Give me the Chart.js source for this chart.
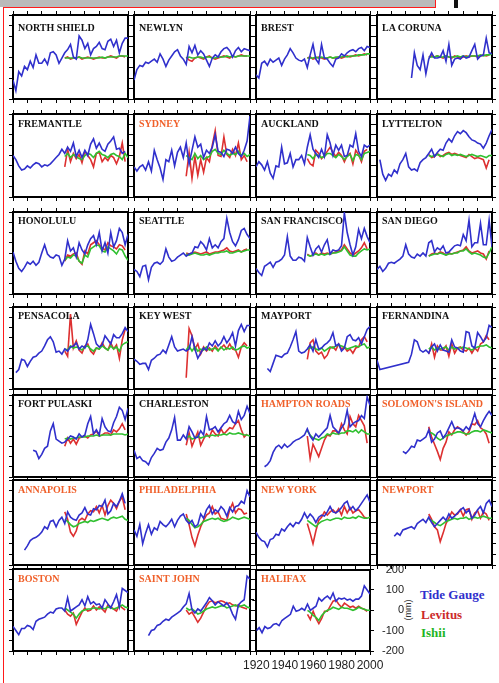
<!DOCTYPE html>
<html lang="en">
<head>
<meta charset="UTF-8">
<title>Tide gauge vs Levitus and Ishii steric sea level</title>
<script src="https://cdn.jsdelivr.net/npm/chart.js"></script>
<style>
  body { margin: 0; width: 499px; height: 683px; background: #fff; position: relative; overflow: hidden; font-family: "Liberation Sans", Arial, sans-serif; }
  .band { position: absolute; left: 0; top: 0; width: 436px; height: 7px; background: #bababa; }
  .redtop { position: absolute; left: 3px; top: 7px; width: 432px; height: 1px; background: #ff1a1a; }
  .redleft { position: absolute; left: 3px; top: 7px; width: 1px; height: 690px; background: #ff1a1a; }
  .rednotch { position: absolute; left: 435px; top: 0; width: 1px; height: 8px; background: #ff1a1a; }
  .mark { position: absolute; left: 454px; top: 0; width: 4px; height: 8px; background: #111; }
  .panel { position: absolute; }
  .station { position: absolute; font: bold 10px "Liberation Serif", "Times New Roman", serif; line-height: 10px; white-space: nowrap; }
  .legend { position: absolute; font: bold 13px "Liberation Serif", "Times New Roman", serif; line-height: 14px; white-space: nowrap; }
  .unit { position: absolute; left: 396px; top: 605px; width: 24px; font-size: 9px; line-height: 10px; text-align: center; color: #333; transform: rotate(-90deg); }
</style>
</head>
<body>
<div class="band"></div>
<div class="redtop"></div>
<div class="redleft"></div>
<div class="rednotch"></div>
<div class="mark"></div>
<div class="unit">(mm)</div>
<div class="legend" style="left:420px; top:588px; color:#2f2fcc;">Tide Gauge</div>
<div class="legend" style="left:421px; top:608px; color:#cc2a2a;">Levitus</div>
<div class="legend" style="left:421px; top:626px; color:#22b522;">Ishii</div>
<script>
// station names, row by row
const stations = [
  'NORTH SHIELD', 'NEWLYN', 'BREST', 'LA CORUNA',
  'FREMANTLE', 'SYDNEY', 'AUCKLAND', 'LYTTELTON',
  'HONOLULU', 'SEATTLE', 'SAN FRANCISCO', 'SAN DIEGO',
  'PENSACOLA', 'KEY WEST', 'MAYPORT', 'FERNANDINA',
  'FORT PULASKI', 'CHARLESTON', 'HAMPTON ROADS', "SOLOMON'S ISLAND",
  'ANNAPOLIS', 'PHILADELPHIA', 'NEW YORK', 'NEWPORT',
  'BOSTON', 'SAINT JOHN', 'HALIFAX'
];
const orangeStations = ['SYDNEY', 'HAMPTON ROADS', "SOLOMON'S ISLAND", 'ANNAPOLIS',
  'PHILADELPHIA', 'NEW YORK', 'NEWPORT', 'BOSTON', 'SAINT JOHN', 'HALIFAX'];

// tide gauge: first year, then one value (mm) every 2 years
const tideStart = [1920, 1920, 1920, 1944, 1920, 1920, 1920, 1922, 1920, 1920, 1920, 1920,
  1922, 1920, 1928, 1920, 1934, 1920, 1926, 1938, 1928, 1920, 1920, 1932, 1920, 1930, 1920];
const tideGauge = [
  [-110,-160,-70,-90,-45,-60,-20,-50,10,-30,-30,-10,-35,20,25,10,-30,-5,20,35,60,0,-10,100,80,40,65,10,40,50,70,40,35,75,85,50,80,20,65,90,90],
  [-110,-60,-40,-45,-25,-30,-20,-10,-25,15,-10,-45,-15,5,25,35,5,-10,-35,50,20,55,10,30,15,-15,-45,-5,10,0,25,40,45,30,0,30,45,25,40,35,30],
  [-85,-100,-30,-20,-40,-10,-25,-15,-5,-40,-10,10,40,20,-5,-15,-20,-10,-50,10,60,-10,-30,60,-5,-10,-30,-45,-10,-5,15,5,20,30,35,25,40,45,30,50,45],
  [-100,20,-40,-60,10,-80,-10,20,-5,-5,0,30,-20,60,-40,-10,-5,-10,5,-5,0,30,60,-10,5,10,90,20,15],
  [0,-20,-50,-70,-65,-50,-60,-45,-35,-40,-55,-45,-50,-40,-25,-10,5,30,10,40,20,60,-5,25,-10,25,0,55,80,35,60,30,20,55,70,90,30,35,10,20],
  [-55,-75,-55,-45,-70,-30,-75,25,-20,-60,-115,-20,-30,25,-50,15,40,-10,60,-40,25,90,40,55,-10,25,10,40,100,20,15,-5,30,25,10,40,10,-5,25,70,190],
  [-55,-30,-45,-70,-30,-85,-110,-50,-55,40,-40,-35,10,-55,-20,-20,0,-40,40,100,30,10,-10,30,-5,100,60,0,50,25,50,-5,0,50,40,105,20,-5,50,40,50],
  [-20,-90,-120,-90,-100,-70,-85,-40,-20,10,-55,-70,-65,-75,-35,-20,-10,10,30,-5,15,30,25,60,80,65,95,115,105,120,110,90,75,70,60,55,35,60,95,125],
  [5,-40,-75,-90,-70,-45,-55,-40,-60,-45,0,40,-5,-20,-25,-10,-15,-60,-30,60,10,25,-20,50,15,-5,40,70,85,40,100,10,50,0,100,30,60,120,100,40,90],
  [-80,-90,-115,-65,-60,-130,-70,-50,-45,-55,-40,20,-20,-40,-35,-20,-10,0,-15,-5,0,30,25,55,40,15,70,25,40,25,55,70,170,100,55,35,65,110,120,90,70],
  [-75,-95,-110,-65,-55,-45,-70,-45,-40,-30,-10,80,-15,-35,-35,-20,-25,-40,75,30,-10,20,35,5,40,65,-5,15,10,15,35,195,100,40,-10,30,115,70,120,80,50],
  [-80,-65,-90,-75,-50,-45,-50,-40,-30,-15,40,-5,-20,-25,-5,-15,0,-15,50,60,5,25,15,35,0,5,20,35,40,35,90,60,160,30,50,50,145,40,40,160,30],
  [-120,-105,-55,-60,-90,-65,-45,-40,-25,-15,10,40,55,30,-20,-15,-30,-5,-15,5,10,25,-5,10,0,40,115,70,20,5,15,60,40,20,65,50,50,70,100,80],
  [-55,-65,-80,-75,-75,-105,-60,-50,-35,-30,-10,-25,15,55,5,-15,-10,-5,-15,-5,55,-5,-50,-25,0,-10,25,10,35,10,25,55,25,45,75,10,85,115,80,110,110],
  [-100,-115,-75,-35,-40,-45,-30,-25,5,40,80,-15,-25,-20,-5,15,-15,40,-5,0,15,25,40,75,10,20,-15,0,55,65,40,35,50,20,55,90,105],
  [-60,-105,null,null,null,null,null,null,null,null,null,-70,-30,40,30,-10,-20,-10,-25,5,20,-15,15,-10,-15,-20,40,5,0,-15,-20,80,75,10,0,75,55,30,50,110,100],
  [-70,-75,-110,-90,-60,-50,25,60,-15,-25,-35,-30,-15,0,-5,-15,10,-5,5,60,95,10,30,5,85,45,25,20,65,95,140,125,80,135],
  [-70,-110,-100,-120,-125,-140,-105,-85,-60,-70,-65,-30,-10,30,90,-20,-20,5,-15,45,20,-10,-5,25,5,95,30,35,45,20,40,60,70,100,70,60,120,80,100,145,110],
  [-150,-140,-120,-80,-55,-45,-60,-40,-55,-45,-30,-20,-15,-5,5,35,0,-20,10,-5,10,25,40,100,45,30,15,40,60,125,45,60,70,75,100,85,190,150],
  [-75,-85,-70,-50,-55,-20,-25,-15,-5,30,-30,-15,15,25,-10,10,40,70,35,40,35,25,45,30,65,110,60,45,75,100,120,100],
  [-130,-110,-85,-75,-70,-60,-45,-20,-30,5,10,-20,10,25,-5,50,25,15,10,35,45,70,40,35,65,60,80,75,105,40,55,90,75,100,135,90],
  [-35,-65,-10,-100,-50,-10,-55,-25,-35,5,-10,-20,-5,15,-20,10,30,40,10,-5,10,-20,-10,40,20,60,80,40,60,50,75,60,30,70,50,75,80,100,90,150,120],
  [-45,-70,-85,-90,-115,-80,-75,-55,-60,-30,-40,-20,-5,-20,0,-5,15,45,20,40,25,0,25,35,30,50,75,50,45,55,70,90,100,60,75,55,70,90,110,130,95],
  [-65,-50,-60,-35,-30,-25,-20,-30,-5,5,15,0,25,0,-20,-5,10,25,10,40,20,30,45,60,70,45,60,20,35,60,75,45,90,105,75],
  [-80,-100,-120,-90,-90,-75,-80,-95,-55,-45,-40,-35,-20,-10,-15,5,10,10,-5,60,-5,5,15,25,50,20,65,30,40,25,30,10,50,30,10,40,75,15,105,95,85],
  [-125,-100,-95,-75,-70,-55,-45,-50,-35,-25,-15,-5,15,30,80,0,-15,5,-5,15,35,60,45,25,40,30,20,35,15,-20,-45,25,40,50,165,150],
  [-100,-85,-110,-80,-90,-85,-70,-65,-75,-50,-40,-30,-20,20,-5,0,10,0,30,0,10,20,60,45,60,70,55,85,45,60,55,60,50,55,45,55,55,70,120,100,80]
];

// Levitus and Ishii: one value (mm) every 2 years from 1956
const modelStart = 1956;
const levitus = [
  [-5,0,-10,-5,-5,0,-10,-5,0,-5,-10,-5,0,-5,-5,0,5,0,-5,5,5,0,null],
  [0,-15,-20,-5,0,-5,-10,0,5,-5,-10,-5,0,5,0,-5,5,0,5,10,5,5,null],
  [-5,0,-10,-5,0,-5,-10,-5,0,-5,-5,0,-5,0,5,0,5,10,5,10,15,10,null],
  [0,5,0,5,0,-5,5,0,-5,5,0,-5,0,5,0,5,5,0,5,10,5,10,null],
  [-55,30,-30,10,-15,5,-35,20,0,-20,-55,10,15,-30,-10,-25,0,-10,-40,-5,60,-30,null],
  [-100,15,-110,-5,-95,-20,-80,-10,-30,50,120,0,-5,90,5,-10,30,0,60,-20,0,-30,null],
  [-15,-40,-50,25,10,-15,0,20,40,15,-5,15,0,-30,0,10,-40,25,5,-30,20,30,null],
  [5,-10,-5,10,-5,0,10,15,5,10,5,0,-5,-10,5,-5,-15,-10,-15,-20,-60,-20,null],
  [-40,-10,-15,-5,0,-40,-55,10,-5,40,50,60,40,25,15,50,35,30,20,40,35,15,null],
  [0,-5,0,5,0,-5,0,5,-5,0,5,5,10,15,25,10,5,10,15,5,15,20,null],
  [-5,-15,-10,0,-10,0,-5,0,-5,0,5,10,15,40,20,0,-10,0,10,25,50,20,null],
  [-15,-5,0,-5,5,0,-10,0,-5,0,5,10,15,30,10,0,5,10,0,-5,-30,10,null],
  [-15,-40,165,0,35,-10,-25,10,20,-15,-30,0,-5,25,0,-10,25,-5,15,-50,40,90,null],
  [-145,95,60,-5,20,-30,5,-15,0,-15,10,-10,0,15,-5,20,-5,-10,-45,5,25,10,null],
  [-55,25,40,-15,-30,-20,-50,-35,0,5,-10,20,-5,5,-15,-5,-25,0,5,40,55,30,null],
  [-30,20,-45,10,-10,-10,10,-40,20,-25,0,5,-10,-15,0,-25,0,-15,20,30,60,40,null],
  [-50,-10,-35,-15,-40,-10,-5,0,-10,5,10,25,0,5,15,15,5,30,20,35,60,30,null],
  [-45,15,-50,-15,20,-45,-15,10,-5,30,10,0,35,10,25,40,35,60,75,30,-5,10,null],
  [0,-110,-40,-70,-100,-60,-20,5,0,25,25,10,60,30,10,95,60,45,100,75,50,-35,null],
  [45,-5,-40,-75,-115,-60,-30,20,5,30,45,35,20,5,20,60,55,75,40,30,10,-35,null],
  [50,15,-45,-65,-40,10,20,10,40,55,50,75,45,80,35,80,105,90,65,100,120,60,null],
  [40,-10,-70,-110,-60,-20,10,35,45,75,40,50,20,15,10,60,90,45,65,60,40,45,null],
  [-5,-50,-100,-40,10,25,50,35,50,60,45,65,35,75,45,70,45,55,60,45,25,20,null],
  [40,15,-20,-35,-90,-50,-5,20,50,35,40,60,30,60,65,15,45,55,20,50,40,10,null],
  [0,-20,-30,-15,-70,-40,-10,10,-5,0,20,0,15,5,-10,25,15,5,-5,25,10,0,null],
  [0,-20,-10,-35,-60,-40,-10,20,40,45,35,40,45,40,30,35,25,20,25,15,10,5,null],
  [-20,-45,-5,-40,-65,-40,-5,-5,20,45,50,30,15,35,25,15,20,10,20,10,5,-5,null]
];
const ishii = [
  [-5,-5,-5,-5,-5,0,-5,-5,-5,-5,-5,-5,-5,0,-5,0,0,0,0,5,5,5,5],
  [-5,0,-5,-5,0,0,-5,0,0,-5,-5,0,0,0,5,0,5,0,5,5,5,5,5],
  [-5,-5,-5,0,-5,0,-5,-5,0,-5,0,0,0,5,0,5,5,5,10,10,10,15,15],
  [0,0,0,5,0,0,5,0,0,0,5,0,5,0,5,5,5,5,10,5,10,10,15],
  [-5,10,-10,5,-5,-15,-20,0,10,5,-10,10,20,5,0,-10,5,10,0,-5,-20,10,-10],
  [0,-10,-20,10,-15,0,-20,-10,-5,20,30,10,5,25,10,0,10,5,20,0,10,-5,5],
  [5,0,-15,5,0,-10,-5,10,10,0,-10,5,-5,-20,-5,5,-25,5,0,-20,10,15,20],
  [0,-5,0,5,0,-5,5,10,0,5,0,5,0,-5,0,5,0,-5,0,-5,-10,0,0],
  [-35,-20,-25,-10,-15,-40,-50,-10,-20,20,30,40,35,10,5,30,20,10,-5,20,15,-15,-35],
  [-5,-10,-5,0,-5,-10,-10,-5,-10,-5,0,0,5,5,10,0,0,5,10,5,10,15,15],
  [-10,-15,-10,-5,-10,-5,-10,-5,-5,0,0,5,10,30,10,-10,-15,-15,0,10,20,15,20],
  [-15,-10,-5,-5,0,-5,-10,-5,-5,0,0,10,10,20,5,-5,0,-5,-10,-20,-25,0,30],
  [-5,-10,10,0,5,0,-10,5,10,-5,-15,0,-5,10,0,-10,10,-5,5,-15,15,25,30],
  [-10,10,-15,5,-15,-5,-10,5,-10,-5,0,-15,5,-10,0,-5,5,-10,-5,5,10,0,5],
  [-5,0,5,-5,-10,0,-15,-5,5,0,10,15,10,5,-5,0,5,10,5,15,20,0,5],
  [-5,5,-10,0,-5,0,5,-10,5,-5,0,0,5,0,-5,-10,0,5,10,10,15,5,0],
  [-15,-10,-15,-10,-10,-5,-5,-5,0,0,0,5,0,5,5,5,5,10,10,10,10,5,10],
  [-10,0,-15,-10,0,-10,-5,0,0,5,0,5,5,10,5,15,10,10,15,10,5,5,0],
  [25,5,-10,-15,-20,-10,-5,10,5,15,10,10,15,15,25,25,20,30,15,30,20,10,10],
  [20,15,5,-10,-20,-10,0,5,10,15,20,20,15,10,10,20,25,25,20,30,25,20,15],
  [15,5,-10,-20,-15,-5,0,5,0,10,5,10,15,20,15,10,20,25,20,25,30,15,10],
  [20,10,-10,-25,-20,-10,5,10,15,20,15,20,10,5,10,15,25,20,15,20,25,20,15],
  [10,0,-10,-20,-5,5,10,15,10,15,20,20,15,25,20,20,25,20,30,25,20,20,25],
  [15,10,0,-10,-15,-5,5,10,15,20,15,20,20,25,15,20,25,20,25,30,25,20,20],
  [10,0,-10,-20,-40,-20,-5,0,5,5,10,10,5,10,5,15,10,5,10,15,25,15,10],
  [10,0,5,-5,-20,-15,-5,5,10,15,10,15,20,20,10,15,20,25,15,20,25,15,10],
  [0,-10,-25,-35,-50,-25,-10,0,5,15,10,5,15,10,10,5,0,5,15,10,5,0,0]
];

// axis tick labels (only printed on the Halifax panel)
const xTickYears = [1920, 1940, 1960, 1980, 2000];
const yTickValues = [-200, -100, 0, 100, 200];

// page layout of the 4 x 7 grid
const colLeft = [13, 134, 256, 377];
const colWidth = [115, 116, 114, 115];
const rowTop = [15, 114, 212, 307, 395, 480, 569];
const rowHeight = [84, 83, 82, 82, 82, 85, 82];
const titleOffset = [8, 5, 4, 4, 4, 5, 5];

const BLUE = '#3030cc', RED = '#dd3030', GREEN = '#30c030';

function toPoints(values, start) {
  return values.map((v, i) => ({ x: start + 2 * i, y: v }));
}

function frameAxis(axis, position, size) {
  const isX = axis === 'x';
  return {
    type: 'linear',
    axis: axis,
    position: position,
    min: isX ? 1920 : -200,
    max: isX ? 2000 : 200,
    ticks: { display: false, stepSize: isX ? 10 : 50 },
    grid: { display: true, drawOnChartArea: false, drawTicks: true, tickLength: 4, color: '#000', lineWidth: 1 },
    border: { display: true, color: '#000', width: 2 },
    afterFit: s => { if (isX) s.height = size; else s.width = size; }
  };
}

function drawPanel(i) {
  const col = i % 4, row = Math.floor(i / 4);
  const last = stations[i] === 'HALIFAX';
  const pad = last ? { l: 16, r: 34, t: 10, b: 24 } : { l: 4, r: 4, t: 4, b: 4 };
  const w = colWidth[col] + pad.l + pad.r;
  const h = rowHeight[row] + pad.t + pad.b;

  const canvas = document.createElement('canvas');
  canvas.className = 'panel';
  canvas.width = w; canvas.height = h;
  canvas.style.left = (colLeft[col] - pad.l) + 'px';
  canvas.style.top = (rowTop[row] - pad.t) + 'px';
  canvas.style.width = w + 'px';
  canvas.style.height = h + 'px';
  document.body.appendChild(canvas);

  const scales = {
    x: frameAxis('x', 'bottom', pad.b),
    xTop: frameAxis('x', 'top', pad.t),
    y: frameAxis('y', 'left', pad.l),
    yRight: frameAxis('y', 'right', pad.r)
  };
  if (last) {
    Object.assign(scales.x.ticks, {
      display: true, autoSkip: false, maxRotation: 0, padding: 3, color: '#222',
      font: { size: 12 },
      callback: v => xTickYears.includes(v) ? String(v) : ''
    });
    Object.assign(scales.yRight.ticks, {
      display: true, padding: 4, crossAlign: 'far', color: '#222',
      font: { size: 11 },
      callback: v => yTickValues.includes(v) ? String(v) : ''
    });
  }

  new Chart(canvas, {
    type: 'line',
    data: {
      datasets: [
        { label: 'Tide Gauge', data: toPoints(tideGauge[i], tideStart[i]), borderColor: BLUE },
        { label: 'Ishii', data: toPoints(ishii[i], modelStart), borderColor: GREEN },
        { label: 'Levitus', data: toPoints(levitus[i], modelStart), borderColor: RED }
      ]
    },
    options: {
      responsive: false,
      animation: false,
      devicePixelRatio: 1,
      layout: { padding: 0 },
      datasets: { line: { borderWidth: 1.6, pointRadius: 0, tension: 0, spanGaps: true, fill: false } },
      plugins: { legend: { display: false }, tooltip: { enabled: false }, title: { display: false } },
      scales: scales
    }
  });

  const title = document.createElement('div');
  title.className = 'station';
  title.textContent = stations[i];
  title.style.left = (colLeft[col] + 5) + 'px';
  title.style.top = (rowTop[row] + titleOffset[row]) + 'px';
  title.style.color = orangeStations.includes(stations[i]) ? '#f0602a' : '#111';
  document.body.appendChild(title);
}

Chart.defaults.font.family = '"Liberation Sans", Arial, sans-serif';
stations.forEach((s, i) => drawPanel(i));
</script>
</body>
</html>
